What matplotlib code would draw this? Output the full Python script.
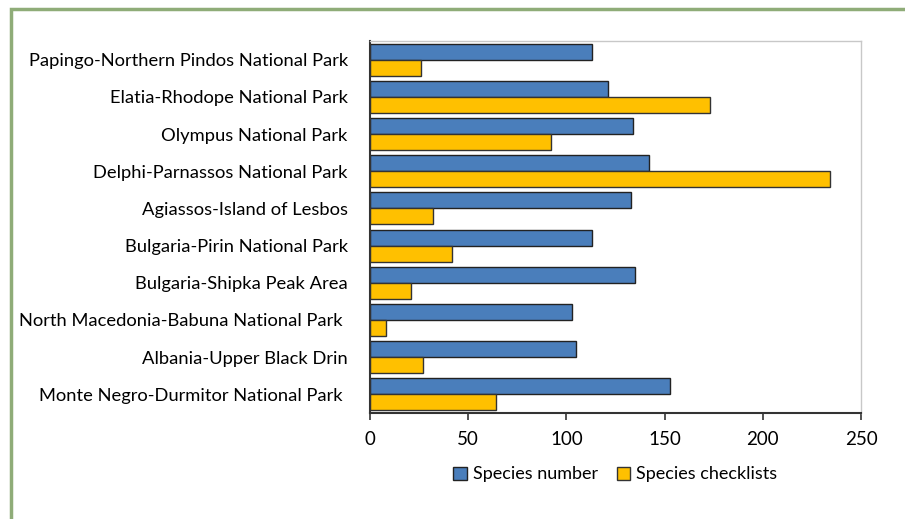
import matplotlib
matplotlib.use("Agg")
import matplotlib.pyplot as plt
import numpy as np
from matplotlib.patches import Rectangle

plt.rcParams["font.family"] = ["Lato", "DejaVu Sans"]

sites = [
    "Papingo-Northern Pindos National Park",
    "Elatia-Rhodope National Park",
    "Olympus National Park",
    "Delphi-Parnassos National Park",
    "Agiassos-Island of Lesbos",
    "Bulgaria-Pirin National Park",
    "Bulgaria-Shipka Peak Area",
    "North Macedonia-Babuna National Park ",
    "Albania-Upper Black Drin",
    "Monte Negro-Durmitor National Park ",
]
species_number = [113, 121, 134, 142, 133, 113, 135, 103, 105, 153]
species_checklists = [26, 173, 92, 234, 32, 42, 21, 8, 27, 64]
x_ticks = [0, 50, 100, 150, 200, 250]

fig = plt.figure(figsize=(9.05, 5.19), dpi=100)
ax = fig.add_axes([370 / 905, 1 - 413 / 519, 491 / 905, 372 / 519])

y = np.arange(len(sites))
h = 0.43
ax.barh(y - h / 2, species_number, height=h, color="#4a7ebb",
        edgecolor="#222222", linewidth=1.0, label="Species number")
ax.barh(y + h / 2, species_checklists, height=h, color="#ffc000",
        edgecolor="#333333", linewidth=1.0, label="Species checklists")

ax.set_ylim(len(sites) - 0.5, -0.5)
ax.set_xlim(0, 250)
ax.set_xticks(x_ticks)
ax.set_xticklabels([str(t) for t in x_ticks], fontsize=13.5)
ax.set_yticks(y)
ax.set_yticklabels(sites, fontsize=13.2)
ax.tick_params(axis="y", length=0, pad=16)
ax.tick_params(axis="x", length=5, width=1.2, color="#333333", pad=8)

for side in ("top", "right"):
    ax.spines[side].set_color("#c8c8c8")
    ax.spines[side].set_linewidth(1.0)
for side in ("left", "bottom"):
    ax.spines[side].set_color("#333333")
    ax.spines[side].set_linewidth(1.5)

ax.legend(loc="upper center", bbox_to_anchor=(0.5, -0.1), ncol=2,
          frameon=False, fontsize=13, handlelength=0.75, handleheight=0.75,
          handletextpad=0.35, columnspacing=1.0)

# green frame round the figure
fig.patches.append(Rectangle((11 / 905, -0.05), 1.0, 1 - 9 / 519 + 0.05,
                             transform=fig.transFigure, fill=False,
                             edgecolor="#8fac78", linewidth=2.5))

fig.savefig("out.png", dpi=100)
